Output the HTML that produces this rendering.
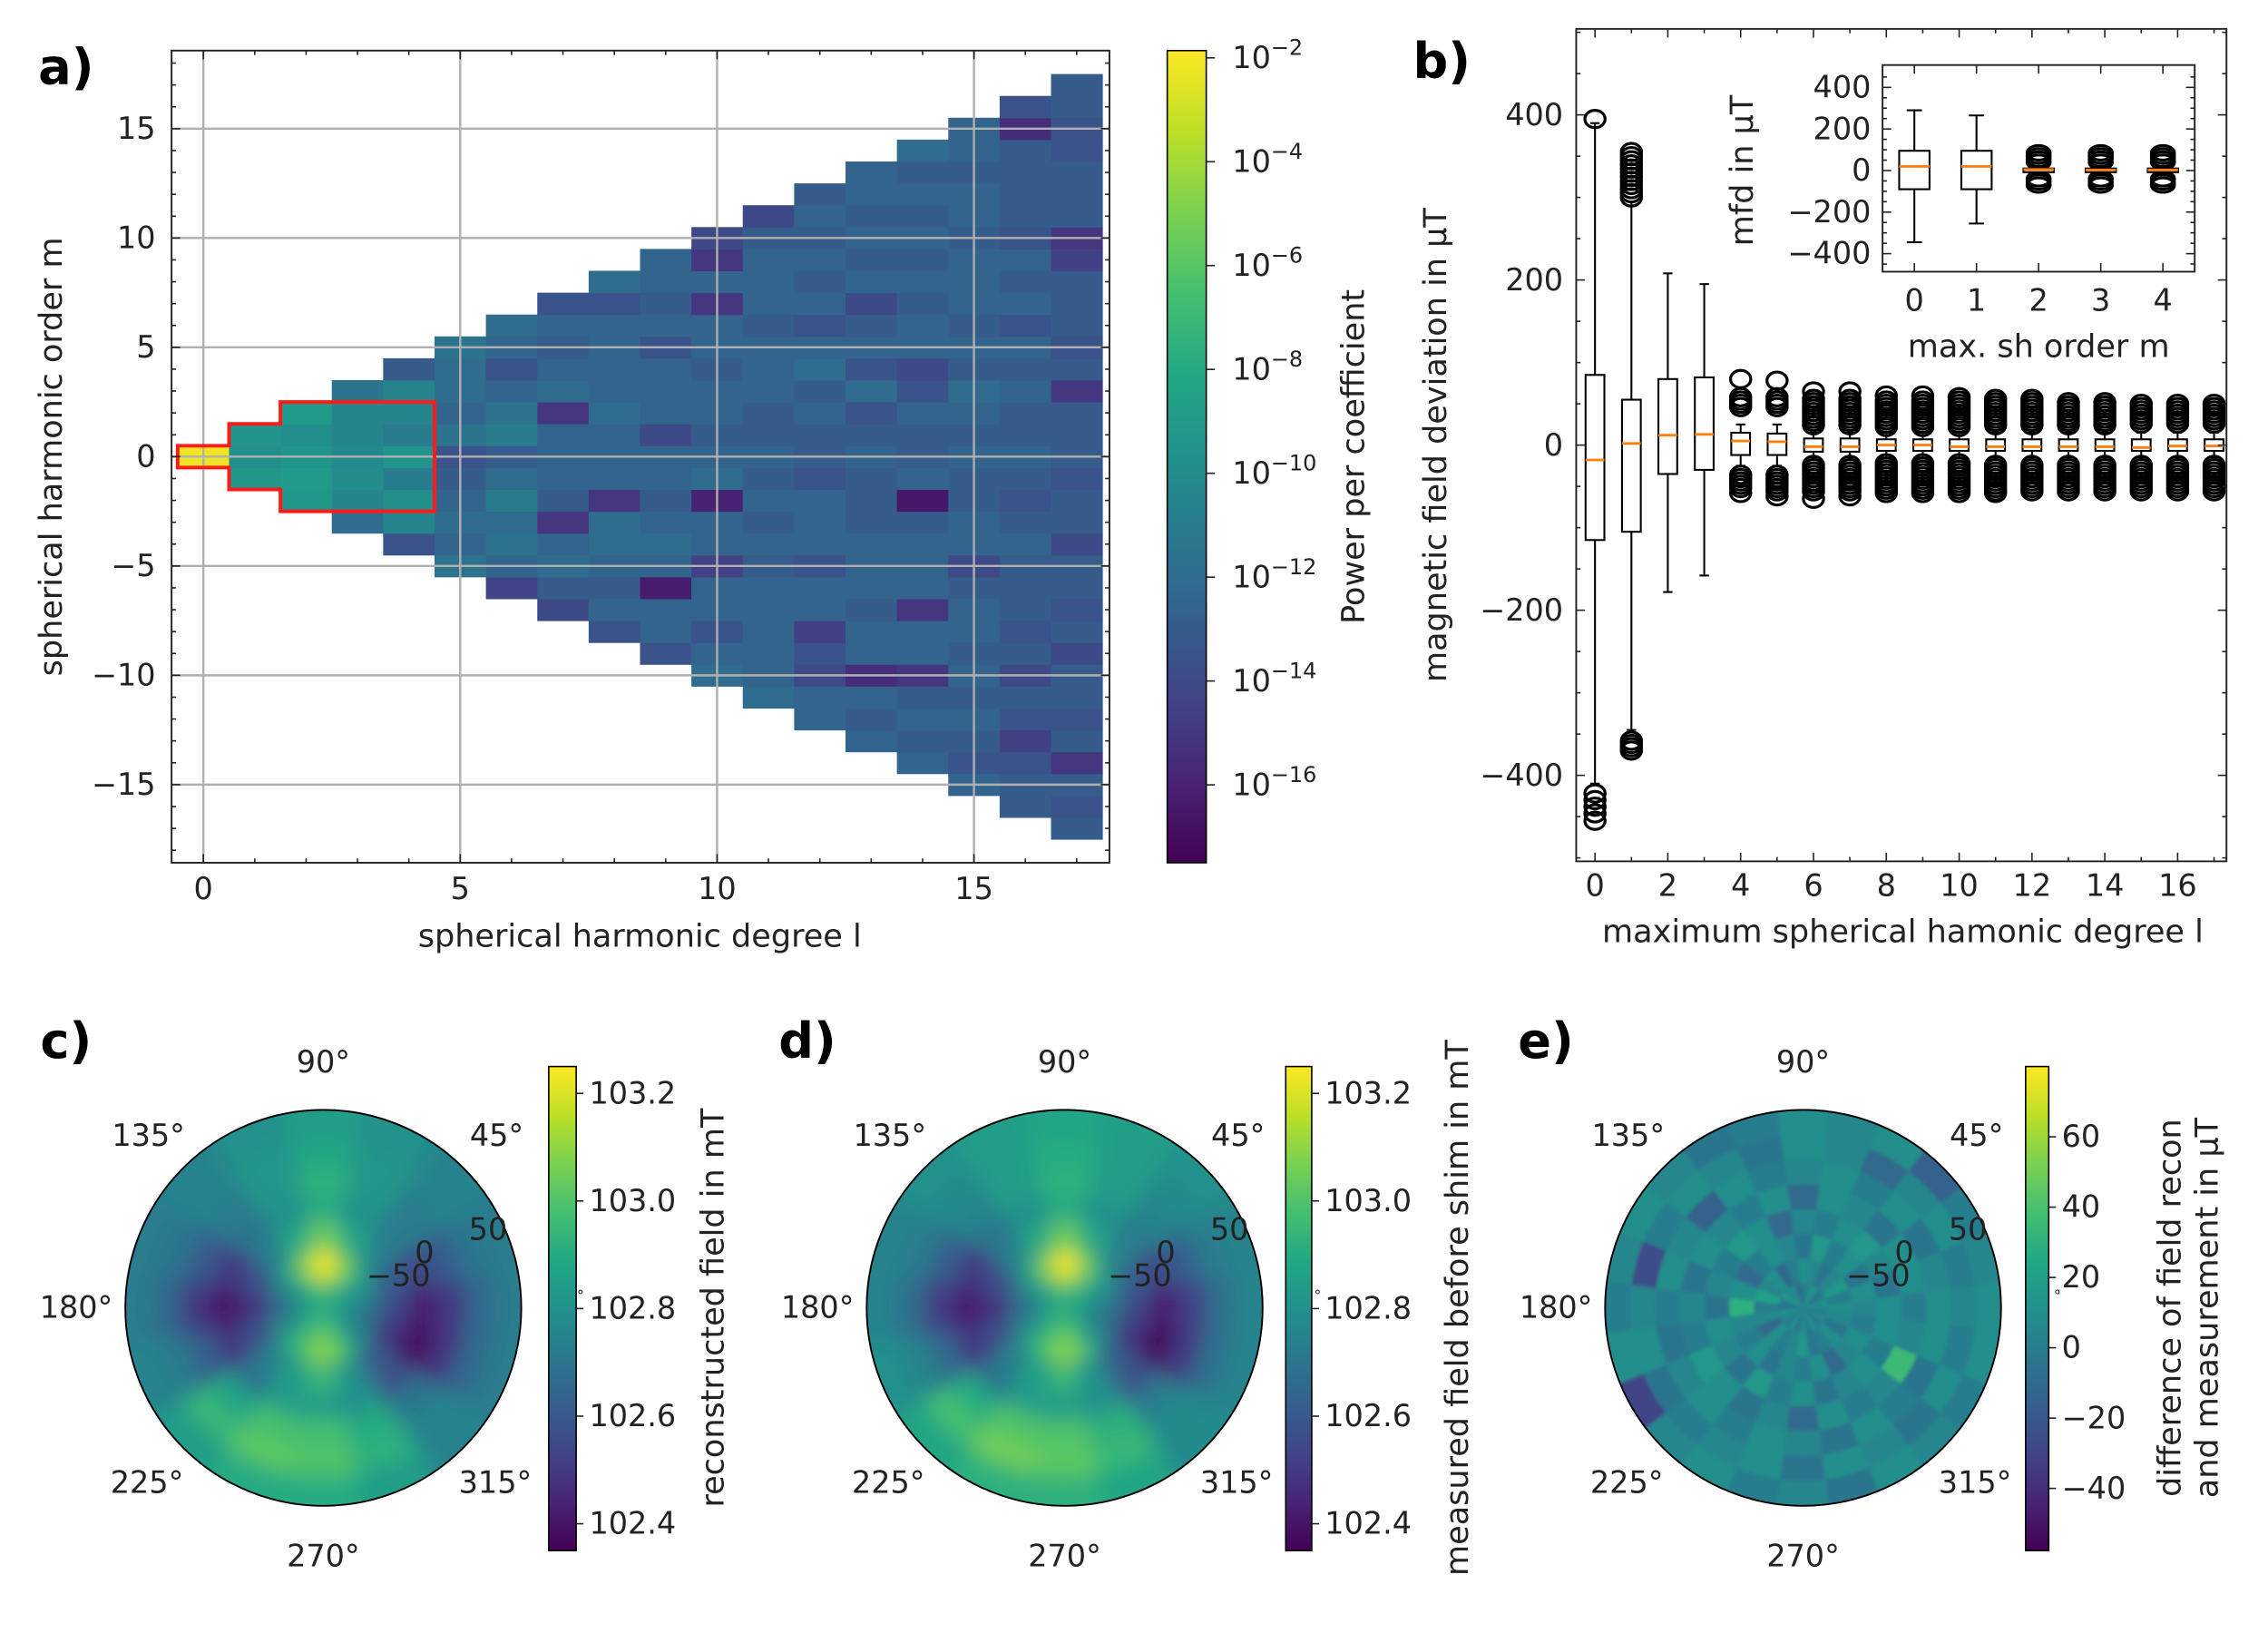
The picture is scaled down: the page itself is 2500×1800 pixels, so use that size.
<!DOCTYPE html>
<html><head><meta charset="utf-8"><style>
html,body{margin:0;padding:0;background:#fff;}
svg{display:block;font-family:"DejaVu Sans","Liberation Sans",sans-serif;}
</style></head><body>
<svg id="fig" width="2500" height="1800" viewBox="0 0 1568 1130" xmlns="http://www.w3.org/2000/svg">
<defs>
<filter id="blur" x="-10%" y="-10%" width="120%" height="120%"><feGaussianBlur stdDeviation="7"/></filter>
<filter id="blurE" x="-10%" y="-10%" width="120%" height="120%"><feGaussianBlur stdDeviation="1.2"/></filter>
<clipPath id="clipC"><circle cx="223" cy="905" r="137"/></clipPath>
<clipPath id="clipD"><circle cx="736" cy="905" r="137"/></clipPath>
<clipPath id="clipE"><circle cx="1247" cy="905" r="137"/></clipPath>
</defs>
<g id="root"></g>
</svg>
<script>
// ---------- Panel a data: log10 power, per degree l, m=-l..l ----------
const degA = [0,1,2,3,4,5,6,7,8,9,10,11,12,13,14,15,16,17];
const powerA = [
[-2.2],
[-9.3,-9.8,-9.5],
[-9.3,-9.0,-9.5,-9.8,-9.0],
[-12,-10.5,-10,-10.2,-10.5,-10.5,-11.5],
[-13.5,-10.5,-9.8,-11,-9.5,-11,-10.5,-10.5,-13],
[-11.5,-12.5,-12,-12.5,-13,-13.5,-11.5,-12.5,-12,-12,-11.5],
[-14.3,-12.5,-11.5,-12,-11,-12,-13,-11,-11.5,-12.5,-13.5,-12.5,-12],
[-14,-13,-12,-12.5,-15,-13,-12.5,-12.5,-12.5,-15,-12,-12.5,-13,-12.5,-13.5],
[-13.5,-12.5,-13,-12.5,-12,-12,-15,-12.5,-12.5,-12.5,-12,-12.5,-12.5,-12.5,-12.5,-13.5,-12],
[-13.5,-12.5,-12.5,-16.3,-12.5,-12,-12.5,-13,-12.5,-12.5,-14,-12.5,-12.5,-12.5,-13.5,-12.5,-13,-12.5,-12.5],
[-12,-12.5,-13.5,-12.5,-12.5,-14.5,-12.5,-12.5,-16,-12,-12.5,-13,-12.5,-12.5,-13,-12.5,-12.5,-15,-12.5,-15,-14],
[-12,-12.5,-12.5,-12.5,-12.5,-12.5,-13,-12.5,-13,-12.5,-13,-12.5,-13,-13,-12.5,-12.5,-12.5,-13,-12.5,-12.5,-12.5,-13,-14],
[-12.5,-12.5,-14,-13.5,-14.5,-12.5,-12.5,-13.5,-12.5,-12.5,-12.5,-13.5,-13,-13,-12.5,-13,-12,-12.5,-13.5,-12.5,-13,-12.5,-13,-12.5,-13],
[-12.5,-13,-12.5,-15.5,-12.5,-12.5,-13,-12.5,-12.5,-12.5,-13,-13,-13,-12.5,-13,-13.5,-12,-13.5,-12.5,-13,-14,-12.5,-13,-12.5,-13,-12.5,-12.5],
[-12.5,-13,-12.5,-13,-15,-12.5,-12.5,-15,-12.5,-12.5,-12.5,-13,-16.5,-12.5,-13,-13,-12.5,-13.5,-14,-12.5,-12.5,-13,-12.5,-13,-12.5,-13,-12.5,-13,-12],
[-12.5,-13.5,-13,-12.5,-13,-12.5,-13,-12.5,-12.5,-13,-14,-12.5,-12.5,-13,-13,-12.5,-13,-12.5,-12,-13,-12.5,-13,-12.5,-12.5,-12.5,-13,-12.5,-12.5,-13,-12.5,-12.5],
[-13,-13,-13.5,-14.5,-13.5,-13,-14,-13,-13.5,-13,-13,-13,-12.5,-13,-13.5,-13,-12.5,-13,-13,-12.5,-13,-12.5,-13.5,-12.5,-13,-12.5,-13.5,-13,-13,-13,-13,-15.5,-13.5],
[-13,-13.5,-13,-15,-13,-13.5,-13,-13,-14,-13,-13.5,-13,-13,-14,-13,-13,-13.5,-13,-13,-13,-15,-13,-13.5,-13,-13,-13,-14.5,-15,-13,-13,-13,-13.5,-13.5,-13,-13]
];
const cbTicksA = [-2,-4,-6,-8,-10,-12,-14,-16];
const xTicksA = [0,5,10,15];
const yTicksA = [15,10,5,0,-5,-10,-15];
const outlineMaxM = [0,1,2,2,2];

// ---------- Panel b data ----------
const degB = [0,1,2,3,4,5,6,7,8,9,10,11,12,13,14,15,16,17];
const q1B  = [-115,-105,-35,-30,-12,-12,-8,-8,-7,-7,-7,-7,-7,-7,-7,-7,-7,-7];
const medB = [-18,2,12,13,5,4,-2,-2,0,0,-2,-2,-2,-2,-2,-3,-1,-1];
const q3B  = [85,55,80,82,15,14,8,8,7,7,7,7,7,7,7,7,7,7];
const loB  = [-410,-345,-178,-158,-25,-25,-15,-15,-15,-15,-15,-15,-15,-15,-15,-15,-15,-15];
const hiB  = [390,295,208,195,25,25,15,15,15,15,15,15,15,15,15,15,15,15];
const fliersB = [
[395,-422,-430,-438,-446,-455],
[300,305,310,315,320,325,330,335,340,345,350,355,-358,-362,-366,-370],
[],[],
[80,58,54,50,46,-36,-40,-44,-48,-52,-58],
[78,58,54,50,46,-36,-40,-44,-48,-52,-56,-62],
[65,56,52,48,44,40,36,32,28,24,-24,-28,-32,-36,-40,-44,-48,-52,-56,-65],
[65,56,52,48,44,40,36,32,28,24,-24,-28,-32,-36,-40,-44,-48,-52,-56,-62],
[60,54,50,46,42,38,34,30,26,22,-22,-26,-30,-34,-38,-42,-46,-50,-54,-58],
[60,54,50,46,42,38,34,30,26,22,-22,-26,-30,-34,-38,-42,-46,-50,-54,-58],
[58,54,50,46,42,38,34,30,26,22,-22,-26,-30,-34,-38,-42,-46,-50,-54,-58],
[56,52,48,44,40,36,32,28,24,-24,-28,-32,-36,-40,-44,-48,-52,-56,-58],
[56,52,48,44,40,36,32,28,24,-24,-28,-32,-36,-40,-44,-48,-52,-56],
[52,48,44,40,36,32,28,24,-24,-28,-32,-36,-40,-44,-48,-52,-56],
[52,48,44,40,36,32,28,24,-24,-28,-32,-36,-40,-44,-48,-52,-56],
[50,46,42,38,34,30,26,-24,-28,-32,-36,-40,-44,-48,-52,-56],
[50,46,42,38,34,30,26,-24,-28,-32,-36,-40,-44,-48,-52,-56],
[50,46,42,38,34,30,26,-24,-28,-32,-36,-40,-44,-48,-52,-56]
];
const yTicksB = [400,200,0,-200,-400];
const xTicksB = [0,2,4,6,8,10,12,14,16];
const ordI = [0,1,2,3,4];
const q1I  = [-90,-90,-8,-8,-8];
const medI = [20,20,5,3,3];
const q3I  = [95,95,10,10,10];
const loI  = [-345,-255,-15,-15,-15];
const hiI  = [290,265,15,15,15];
const fliersI = [[],[],[85,70,55,40,-40,-55,-70],[85,70,55,40,-40,-55,-70],[85,70,55,40,-40,-55,-70]];
const yTicksI = [400,200,0,-200,-400];

// ---------- Polar maps ----------
const fieldC = [
[102.85,102.85,102.9,102.95,103.0,102.95,102.9,102.85,102.85,102.85,102.9,102.95,103.0,102.95,102.85,102.85],
[102.7,102.8,102.9,103.1,103.3,103.1,102.9,102.75,102.65,102.75,102.9,103.0,103.1,103.0,102.8,102.7],
[102.55,102.62,102.75,102.9,103.05,102.9,102.75,102.58,102.48,102.58,102.75,102.85,102.95,102.8,102.62,102.5],
[102.42,102.55,102.72,102.8,102.9,102.8,102.7,102.5,102.4,102.5,102.7,102.85,102.85,102.8,102.58,102.38],
[102.5,102.6,102.72,102.82,102.92,102.82,102.72,102.6,102.5,102.62,102.88,102.98,102.98,102.9,102.7,102.48],
[102.65,102.7,102.75,102.82,102.88,102.82,102.75,102.7,102.65,102.72,102.95,103.02,103.0,102.92,102.75,102.65],
[102.72,102.72,102.75,102.8,102.85,102.8,102.75,102.72,102.72,102.75,102.85,102.9,102.9,102.85,102.75,102.72]
];
const fieldD = [
[102.85,102.85,102.9,102.95,103.0,102.95,102.9,102.85,102.85,102.85,102.9,102.95,103.0,102.95,102.85,102.85],
[102.7,102.8,102.9,103.1,103.3,103.1,102.9,102.75,102.65,102.75,102.9,103.0,103.1,103.0,102.8,102.7],
[102.55,102.62,102.75,102.9,103.05,102.9,102.75,102.58,102.48,102.58,102.75,102.85,102.95,102.8,102.62,102.5],
[102.42,102.55,102.72,102.8,102.9,102.8,102.7,102.5,102.42,102.5,102.7,102.85,102.85,102.8,102.58,102.38],
[102.52,102.62,102.75,102.85,102.92,102.85,102.75,102.62,102.52,102.65,102.9,103.0,103.0,102.92,102.72,102.5],
[102.68,102.72,102.78,102.85,102.9,102.85,102.78,102.72,102.68,102.75,102.98,103.05,103.02,102.95,102.78,102.68],
[102.75,102.75,102.8,102.85,102.88,102.85,102.8,102.75,102.75,102.8,102.88,102.92,102.92,102.88,102.78,102.75]
];
const cbTicksCD = [103.2,103.0,102.8,102.6,102.4];
const diffE = [
[5,10,0,-5,15,5,0,-10,10,5,15,0,-5,10,5,0,10,-5,5,0,10,-5,5,0],
[10,0,15,5,-5,5,10,0,-10,10,5,20,0,5,-10,10,0,5,15,-5,0,10,-5,5],
[5,10,-5,10,0,15,-5,5,10,0,-10,10,30,5,0,10,-5,5,0,10,-10,5,10,0],
[10,-5,5,15,10,0,5,-10,10,15,0,5,-5,10,5,-5,15,0,10,-5,5,10,0,10],
[0,10,10,-5,5,10,-10,10,0,5,10,-5,5,0,15,10,-5,5,-10,10,0,5,35,5],
[10,5,-5,10,0,10,5,0,10,-15,5,10,0,-5,5,10,0,10,5,-5,10,0,-5,10],
[5,0,10,5,-10,5,10,-5,5,10,0,-25,5,10,-5,0,5,10,-5,10,5,-5,10,0],
[10,5,0,-15,10,5,10,0,-5,5,10,5,0,10,-30,5,10,0,5,-5,10,5,0,10]
];
const cbTicksE = [60,40,20,0,-20,-40];

// ---------- helpers ----------
const NS = 'http://www.w3.org/2000/svg';
const root = document.getElementById('root');
function el(tag, attrs, parent, text){
  const e = document.createElementNS(NS, tag);
  for (const k in attrs) e.setAttribute(k, attrs[k]);
  if (text !== undefined) e.textContent = text;
  (parent||root).appendChild(e);
  return e;
}
const VIR = ['#440154','#482475','#414487','#355f8d','#2a788e','#21918c','#22a884','#44bf70','#7ad151','#bddf26','#fde725'];
function hex(h){return [parseInt(h.substr(1,2),16),parseInt(h.substr(3,2),16),parseInt(h.substr(5,2),16)];}
function viridis(t){
  t = Math.max(0, Math.min(1, t));
  const p = t*10, i = Math.min(9, Math.floor(p)), f = p - i;
  const a = hex(VIR[i]), b = hex(VIR[i+1]);
  return 'rgb(' + a.map((v,j)=>Math.round(v+(b[j]-v)*f)).join(',') + ')';
}
function txt(x,y,s,attrs,parent){
  const a = Object.assign({x:x,y:y,'font-size':21,fill:'#222','text-anchor':'middle'}, attrs||{});
  return el('text', a, parent, s);
}
function colorbar(g, x, y0, y1, w, name){
  const grad = el('linearGradient', {id:'grad'+name, x1:0,y1:1,x2:0,y2:0}, g);
  for (let i=0;i<=10;i++) el('stop', {offset:i/10, 'stop-color':viridis(i/10)}, grad);
  const r = el('rect', {x:x, y:y0, width:w, height:y1-y0, fill:'url(#grad'+name+')', stroke:'#000','stroke-width':1}, g);
  
  
}

// ---------- Panel a ----------
(function(){
  const g = el('g', {}, root);
  
  
  const L=118, R=767, T=35, B=597;
  const xs = l => 140 + 35.55*l;
  const ys = m => 316 - 15.13*m;
  const vmin=-17.5, vmax=-1.86;
  const cy = v => 597 - (v - vmin)/(vmax - vmin)*(597-35);
  degA.forEach((l, li) => {
    powerA[li].forEach((v, j) => {
      const m = j - l;
      const r = el('rect', {x:xs(l-0.5), y:ys(m+0.5), width:xs(l+0.5)-xs(l-0.5)+0.3, height:ys(m-0.5)-ys(m+0.5)+0.3, fill:viridis((v-vmin)/(vmax-vmin))}, g);
      
      
    });
  });
  xTicksA.forEach(t => el('line', {x1:xs(t),x2:xs(t),y1:T,y2:B,stroke:'#b0b0b0','stroke-width':1.5}, g));
  yTicksA.forEach(t => el('line', {x1:L,x2:R,y1:ys(t),y2:ys(t),stroke:'#b0b0b0','stroke-width':1.5}, g));
  let d = '';
  outlineMaxM.forEach((mm,l) => { d += (l===0?'M':'L') + xs(l-0.5) + ',' + ys(mm+0.5) + ' L' + xs(l+0.5) + ',' + ys(mm+0.5) + ' '; });
  for (let l=outlineMaxM.length-1;l>=0;l--){ const mm=outlineMaxM[l]; d += 'L' + xs(l+0.5) + ',' + ys(-mm-0.5) + ' L' + xs(l-0.5) + ',' + ys(-mm-0.5) + ' '; }
  const red = el('path', {d:d+'Z', fill:'none', stroke:'#ff1a1a','stroke-width':2.5}, g);
  
  
  el('rect', {x:L,y:T,width:R-L,height:B-T,fill:'none',stroke:'#222','stroke-width':1.2}, g);
  for (let l=0;l<=17;l++){ el('line',{x1:xs(l),x2:xs(l),y1:B,y2:B-(l%5?3:6),stroke:'#222'},g); el('line',{x1:xs(l),x2:xs(l),y1:T,y2:T+(l%5?3:6),stroke:'#222'},g); }
  for (let m=-18;m<=18;m++){ if (ys(m)<T||ys(m)>B) continue; el('line',{x1:L,x2:L+(m%5?3:6),y1:ys(m),y2:ys(m),stroke:'#222'},g); el('line',{x1:R,x2:R-(m%5?3:6),y1:ys(m),y2:ys(m),stroke:'#222'},g); }
  xTicksA.forEach(t => txt(xs(t), 622, String(t), {}, g));
  yTicksA.forEach(t => txt(107, ys(t)+7, String(t).replace('-','\u2212'), {'text-anchor':'end'}, g));
  const xl = txt(442, 655, 'spherical harmonic degree l', {'font-size':22}, g);
   
  const yl = txt(0,0,'spherical harmonic order m', {'font-size':22, transform:'translate(42,316) rotate(-90)'}, g);
   
  colorbar(g, 807, 35, 597, 27, 'power');
  cbTicksA.forEach(t => {
    const y = cy(t);
    el('line',{x1:834,x2:840,y1:y,y2:y,stroke:'#222'},g);
    const tt = txt(852, y+7, '10', {'text-anchor':'start'}, g);
    el('tspan', {dy:-9,'font-size':15}, tt, '\u2212'+Math.abs(t));
  });
  const cl = txt(0,0,'Power per coefficient', {'font-size':22, transform:'translate(943,316) rotate(-90)'}, g);
   
  const pl = txt(45, 58, 'a)', {'font-size':34,'font-weight':'bold',fill:'#000'}, g);
   
})();

function boxplot(g, cats, q1, med, q3, lo, hi, fl, xs, ys, bw, rx, ry){
  cats.forEach((c,i) => {
    const x = xs(c);
    el('line',{x1:x,x2:x,y1:ys(hi[i]),y2:ys(q3[i]),stroke:'#000','stroke-width':1.3},g);
    el('line',{x1:x,x2:x,y1:ys(q1[i]),y2:ys(lo[i]),stroke:'#000','stroke-width':1.3},g);
    el('line',{x1:x-bw/4,x2:x+bw/4,y1:ys(hi[i]),y2:ys(hi[i]),stroke:'#000','stroke-width':1.3},g);
    el('line',{x1:x-bw/4,x2:x+bw/4,y1:ys(lo[i]),y2:ys(lo[i]),stroke:'#000','stroke-width':1.3},g);
    fl[i].forEach(v => el('ellipse',{cx:x,cy:ys(v),rx:rx,ry:ry,fill:'none',stroke:'#000','stroke-width':2},g));
    const b = el('rect',{x:x-bw/2,y:ys(q3[i]),width:bw,height:Math.max(1,ys(q1[i])-ys(q3[i])),fill:'#fff',stroke:'#000','stroke-width':1.3},g);
    
    
    el('line',{x1:x-bw/2,x2:x+bw/2,y1:ys(med[i]),y2:ys(med[i]),stroke:'#ff7f0e','stroke-width':1.8},g);
  });
}

// ---------- Panel b ----------
(function(){
  const g = el('g', {}, root);
  
  
  const L=1090,R=1540,T=20,B=596;
  const xs = v => 1103 + 25.2*v;
  const ys = v => 308 - 0.5713*v;
  el('rect',{x:L,y:T,width:R-L,height:B-T,fill:'#fff',stroke:'#222','stroke-width':1.2},g);
  boxplot(g, degB, q1B, medB, q3B, loB, hiB, fliersB, xs, ys, 13, 7, 6);
  for (let v=-500; v<=500; v+=50){ const y=ys(v); if(y<T||y>B) continue; const w=v%200===0?6:3; el('line',{x1:L,x2:L+w,y1:y,y2:y,stroke:'#222'},g); el('line',{x1:R,x2:R-w,y1:y,y2:y,stroke:'#222'},g); }
  degB.forEach(d => { const w=d%2?3:6; el('line',{x1:xs(d),x2:xs(d),y1:B,y2:B-w,stroke:'#222'},g); el('line',{x1:xs(d),x2:xs(d),y1:T,y2:T+w,stroke:'#222'},g); });
  yTicksB.forEach(t => txt(1081, ys(t)+7, String(t).replace('-','\u2212'), {'text-anchor':'end'}, g));
  xTicksB.forEach(t => txt(xs(t), 620, String(t), {}, g));
  const xl = txt(1316, 652, 'maximum spherical hamonic degree l', {'font-size':22}, g);
   
  const yl = txt(0,0,'magnetic field deviation in \u03bcT', {'font-size':22, transform:'translate(1000,308) rotate(-90)'}, g);
   
  const pl = txt(997, 54, 'b)', {'font-size':34,'font-weight':'bold',fill:'#000'}, g);
   
  const gi = el('g', {}, g);
  
  
  const iL=1302,iR=1518,iT=45,iB=188;
  const xi = v => 1324 + 43*v;
  const yi = v => 118 - 0.1438*v;
  el('rect',{x:iL,y:iT,width:iR-iL,height:iB-iT,fill:'#fff',stroke:'#222','stroke-width':1.2},gi);
  boxplot(gi, ordI, q1I, medI, q3I, loI, hiI, fliersI, xi, yi, 21, 8, 5);
  for (let v=-450; v<=450; v+=50){ const y=yi(v); if(y<iT||y>iB) continue; const w=v%200===0?6:3; el('line',{x1:iL,x2:iL+w,y1:y,y2:y,stroke:'#222'},gi); el('line',{x1:iR,x2:iR-w,y1:y,y2:y,stroke:'#222'},gi); }
  ordI.forEach(d => { el('line',{x1:xi(d),x2:xi(d),y1:iB,y2:iB-6,stroke:'#222'},gi); el('line',{x1:xi(d),x2:xi(d),y1:iT,y2:iT+6,stroke:'#222'},gi); });
  yTicksI.forEach(t => txt(1294, yi(t)+7, String(t).replace('-','\u2212'), {'text-anchor':'end'}, gi));
  ordI.forEach(t => txt(xi(t), 215, String(t), {}, gi));
  txt(1410, 247, 'max. sh order m', {'font-size':22}, gi);
  txt(0,0,'mfd in \u03bcT', {'font-size':22, transform:'translate(1212,118) rotate(-90)'}, gi);
})();

function wedge(cx,cy,r0,r1,a0,a1){
  const p=(r,a)=>(cx+r*Math.cos(a)).toFixed(2)+','+(cy-r*Math.sin(a)).toFixed(2);
  return 'M'+p(r0,a0)+' L'+p(r1,a0)+' A'+r1+','+r1+' 0 0 0 '+p(r1,a1)+' L'+p(r0,a1)+(r0>0?' A'+r0+','+r0+' 0 0 1 '+p(r0,a0):'')+' Z';
}
function polarPanel(opts){
  const g = el('g', {}, root);
  
  
  const cx=opts.cx, cy=opts.cy, R=137;
  const grid = opts.data, nr = grid.length, ns = grid[0].length;
  const vmin=opts.vmin, vmax=opts.vmax;
  const cg = el('g', {'clip-path':'url(#'+opts.clip+')'}, g);
  el('circle',{cx:cx,cy:cy,r:R,fill:viridis((opts.bg-vmin)/(vmax-vmin))},cg);
  const mg = el('g', {filter: opts.blur?'url(#blur)':'url(#blurE)'}, cg);
  const dr = R/nr, da = 2*Math.PI/ns;
  grid.forEach((ring,ri) => ring.forEach((v,k) => {
    const a0 = (k-0.5)*da, a1=(k+0.5)*da;
    const r1 = ri===nr-1 ? R+20 : (ri+1)*dr;
    const w = el('path',{d:wedge(cx,cy,ri*dr,r1,a0,a1+0.01),fill:viridis((v-vmin)/(vmax-vmin)),stroke:viridis((v-vmin)/(vmax-vmin)),'stroke-width':0.5},mg);
    
    
  }));
  el('circle',{cx:cx,cy:cy,r:R,fill:'none',stroke:'#000','stroke-width':1.2},g);
  const ang = [[45,'45\u00b0'],[90,'90\u00b0'],[135,'135\u00b0'],[180,'180\u00b0'],[225,'225\u00b0'],[270,'270\u00b0'],[315,'315\u00b0']];
  const offs = {45:[120,-119],90:[0,-170],135:[-121,-119],180:[-171,0],225:[-122,121],270:[0,172],315:[119,121]};
  ang.forEach(a => { const o=offs[a[0]]; txt(cx+o[0], cy+o[1]+7, a[1], {}, g); });
  txt(cx+114, cy-47, '50', {}, g);
  txt(cx+70, cy-31, '0', {}, g);
  txt(cx+52, cy-15, '\u221250', {}, g);
  txt(opts.cbx+22, cy-5, '\u00b0', {'font-size':10}, g);
  colorbar(g, opts.cbx, 738, 1073, opts.cbw, opts.name);
  const ycb = v => 1073 - (v-vmin)/(vmax-vmin)*(1073-738);
  opts.ticks.forEach(t => {
    const y=ycb(t);
    el('line',{x1:opts.cbx+opts.cbw,x2:opts.cbx+opts.cbw+5,y1:y,y2:y,stroke:'#222'},g);
    txt(opts.cbx+opts.cbw+9, y+7, opts.fmt(t), {'text-anchor':'start'}, g);
  });
  opts.labels.forEach((s,i) => {
    const t = txt(0,0,s,{'font-size':22,transform:'translate('+(opts.lx+i*26)+',905) rotate(-90)'},g);
    
    
  });
  const pl = txt(opts.cx-178, 732, opts.letter, {'font-size':34,'font-weight':'bold',fill:'#000'}, g);
  
  
}
const fmt1 = t => t.toFixed(1);
const fmtE = t => String(t).replace('-','\u2212');
polarPanel({name:'panel-c-reconstructed-field', cx:223, cy:905, clip:'clipC', data:fieldC, vmin:102.35, vmax:103.25, bg:102.72, blur:true, cbx:379, cbw:19, ticks:cbTicksCD, fmt:fmt1, labels:['reconstructed field in mT'], lx:500, letter:'c)'});
polarPanel({name:'panel-d-measured-field', cx:736, cy:905, clip:'clipD', data:fieldD, vmin:102.35, vmax:103.25, bg:102.75, blur:true, cbx:889, cbw:18, ticks:cbTicksCD, fmt:fmt1, labels:['measured field before shim in mT'], lx:1015, letter:'d)'});
polarPanel({name:'panel-e-difference', cx:1247, cy:905, clip:'clipE', data:diffE, vmin:-57.7, vmax:80, bg:8, blur:false, cbx:1401, cbw:16, ticks:cbTicksE, fmt:fmtE, labels:['difference of field recon','and measurement in \u03bcT'], lx:1508, letter:'e)'});
</script>
</body></html>
